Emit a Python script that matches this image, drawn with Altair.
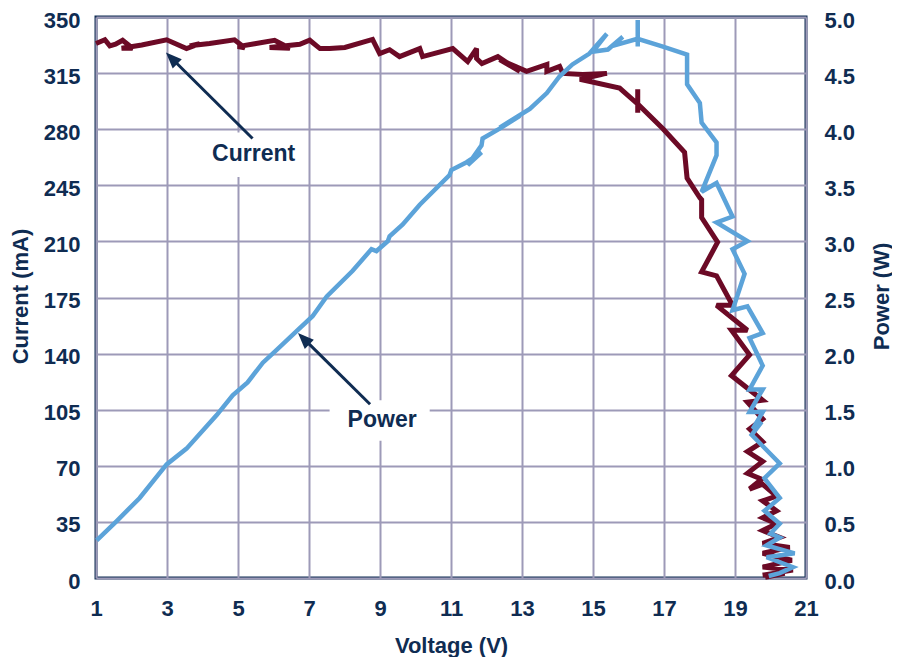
import altair as alt
import pandas as pd

# ---------------- data ----------------
current_v = [1.0, 1.25, 1.39, 1.55, 1.75, 2.03, 1.72, 2.29, 2.99, 3.55, 3.92, 3.64,
             4.20, 4.90, 5.19, 4.99, 5.47, 6.03, 6.46, 5.89, 6.74, 7.02, 7.31, 7.58,
             8.01, 8.79, 8.99, 9.27, 9.55, 10.12, 10.20, 11.05, 11.47, 11.72, 11.72,
             11.87, 12.32, 12.94, 12.37, 13.13, 13.70, 13.70, 14.06, 14.15, 14.71,
             15.39, 14.63, 15.75, 16.26, 16.26, 16.26, 16.26, 16.97, 17.58, 17.65,
             18.01, 18.06, 18.06, 18.51, 18.06, 18.48, 18.93, 18.48, 19.35, 18.90,
             19.41, 18.90, 19.78, 19.35, 19.78, 19.41, 19.78, 19.35, 19.78, 19.35,
             19.75, 19.41, 19.78, 20.17, 19.78, 20.17, 19.78, 20.17, 19.78, 20.26,
             19.78, 20.54, 19.78, 20.60, 19.78, 20.63, 19.78, 20.40, 19.85]
current_ma = [333.5, 335.8, 332.0, 333.0, 335.5, 330.5, 330.5, 332.5, 335.8, 330.3,
              333.3, 332.0, 333.5, 335.8, 330.8, 331.5, 333.3, 335.5, 330.5, 331.0,
              333.0, 335.5, 330.3, 330.3, 331.0, 336.0, 327.2, 329.6, 325.3, 330.3,
              325.3, 330.3, 322.2, 330.3, 324.1, 321.0, 325.3, 316.1, 323.5, 316.1,
              320.4, 316.1, 319.2, 314.8, 314.2, 314.8, 311.2, 305.6, 295.7, 305.0,
              290.2, 295.7, 280.3, 265.6, 249.5, 237.2, 236.0, 224.9, 209.5, 191.0,
              188.5, 170.1, 170.1, 154.6, 154.6, 139.2, 126.3, 110.9, 109.7, 99.2,
              93.0, 85.0, 78.9, 72.7, 65.3, 61.6, 55.5, 58.5, 51.1, 48.1, 41.9, 37.6,
              33.9, 29.6, 25.3, 21.6, 19.1, 15.4, 11.1, 6.8, 4.9, 1.8, 3.0, 0.5]

power_v = [1.02, 1.59, 2.23, 2.99, 3.55, 4.40, 4.85, 5.27, 5.70, 6.09, 6.68, 7.10,
           7.50, 8.23, 8.76, 8.90, 9.22, 9.27, 9.64, 10.12, 10.96, 11.01, 11.44,
           11.86, 11.47, 11.86, 11.89, 12.37, 12.94, 12.37, 13.22, 13.70, 14.06,
           14.42, 14.90, 15.39, 14.99, 15.42, 15.84, 15.53, 16.26, 16.26, 16.26,
           16.26, 16.97, 17.65, 17.65, 18.01, 18.06, 18.48, 18.48, 18.06, 18.48,
           18.93, 18.48, 19.35, 18.93, 19.27, 18.93, 19.35, 19.78, 19.41, 19.78,
           19.41, 19.78, 19.41, 19.78, 19.50, 19.75, 19.47, 20.26, 19.83, 20.26,
           19.83, 20.26, 20.00, 20.26, 19.89, 20.68, 19.89, 20.63, 20.26, 19.95]
power_w = [0.335, 0.51, 0.713, 1.012, 1.153, 1.452, 1.629, 1.743, 1.919, 2.033,
           2.210, 2.333, 2.509, 2.738, 2.931, 2.914, 3.002, 3.046, 3.151, 3.327,
           3.592, 3.636, 3.706, 3.794, 3.680, 3.856, 3.917, 4.005, 4.120, 4.014,
           4.181, 4.322, 4.472, 4.577, 4.674, 4.850, 4.690, 4.710, 4.824, 4.740,
           4.806, 4.974, 4.736, 4.806, 4.736, 4.665, 4.401, 4.234, 4.058, 3.882,
           3.768, 3.442, 3.521, 3.222, 3.169, 3.002, 2.931, 2.711, 2.386, 2.421,
           2.183, 2.139, 1.893, 1.681, 1.681, 1.479, 1.479, 1.329, 1.391, 1.276,
           1.021, 0.889, 0.713, 0.599, 0.484, 0.396, 0.361, 0.290, 0.220, 0.185,
           0.097, 0.044, 0.018]

x_ticks = [1, 3, 5, 7, 9, 11, 13, 15, 17, 19, 21]
current_ticks = [0, 35, 70, 105, 140, 175, 210, 245, 280, 315, 350]
power_ticks = [0.0, 0.5, 1.0, 1.5, 2.0, 2.5, 3.0, 3.5, 4.0, 4.5, 5.0]

# annotations (data units)
cur_label = pd.DataFrame({"v": [5.44], "i": [264.3], "text": ["Current"],
                          "v1": [4.06], "v2": [6.82], "i1": [250.2], "i2": [277.9]})
cur_arrow = pd.DataFrame({"v": [5.41], "i": [274.2], "v2": [3.13], "i2": [324.3],
                          "tv": [2.97], "ti": [327.8]})
pow_label = pd.DataFrame({"v": [9.06], "p": [1.404], "text": ["Power"],
                          "v1": [7.58], "v2": [10.40], "p1": [1.224], "p2": [1.585]})
pow_arrow = pd.DataFrame({"v": [8.72], "p": [1.549], "v2": [6.85], "p2": [2.133],
                          "tv": [6.69], "tp": [2.183]})

cur = pd.DataFrame({"v": current_v, "i": current_ma, "k": list(range(len(current_v)))})
pw = pd.DataFrame({"v": power_v, "p": power_w, "k": list(range(len(power_v)))})

# ---------------- styling ----------------
NAVY = "#0F2C52"
RED = "#6C0A26"
BLUE = "#5CA3D9"
GRID = "#9D9AB8"
FONT = "Liberation Sans"
ARROW = "M0,0L0.8,2L-0.8,2Z"

xs = alt.Scale(domain=[1, 21], nice=False, zero=False)
ys_i = alt.Scale(domain=[0, 350], nice=False)
ys_p = alt.Scale(domain=[0, 5], nice=False)

x_axis = alt.Axis(values=x_ticks, title="Voltage (V)", grid=True, gridColor=GRID,
                  gridWidth=2, gridOpacity=1, domain=False, ticks=False,
                  labelFlush=False, labelPadding=20, labelFont=FONT,
                  labelFontSize=22, labelFontWeight="bold", labelColor=NAVY,
                  titleFont=FONT, titleFontSize=22, titleFontWeight="bold",
                  titleColor=NAVY, titleY=67, titleBaseline="middle")
yi_axis = alt.Axis(values=current_ticks, title="Current (mA)", orient="left",
                   grid=True, gridColor=GRID, gridWidth=2, gridOpacity=1,
                   domain=False, ticks=False, labelFlush=False, labelPadding=16,
                   labelOffset=3, labelFont=FONT, labelFontSize=22,
                   labelFontWeight="bold", labelColor=NAVY, titleFont=FONT,
                   titleFontSize=22, titleFontWeight="bold", titleColor=NAVY,
                   titleAngle=270, titleX=-76, titleY=279, titleAlign="center",
                   titleBaseline="middle")
yp_axis = alt.Axis(values=power_ticks, format=".1f", title="Power (W)",
                   orient="right", grid=False, domain=False, ticks=False,
                   labelFlush=False, labelPadding=18, labelOffset=3,
                   labelFont=FONT, labelFontSize=22, labelFontWeight="bold",
                   labelColor=NAVY, titleFont=FONT, titleFontSize=22,
                   titleFontWeight="bold", titleColor=NAVY, titleAngle=270,
                   titleX=75, titleY=279, titleAlign="center",
                   titleBaseline="middle")


def X(field):
    return alt.X(field, scale=xs, axis=x_axis)


def YI(field):
    return alt.Y(field, scale=ys_i, axis=yi_axis)


def YP(field):
    return alt.Y(field, scale=ys_p, axis=yp_axis)


# ---------------- current layer (left axis) ----------------
cur_line = alt.Chart(cur).mark_line(color=RED, strokeWidth=5, strokeJoin="miter",
                                    strokeMiterLimit=3).encode(
    x=X("v:Q"), y=YI("i:Q"), order="k:Q",
)
cur_box = alt.Chart(cur_label).mark_rect(color="white").encode(
    x=X("v1:Q"), x2="v2:Q", y=YI("i1:Q"), y2="i2:Q",
)
cur_text = alt.Chart(cur_label).mark_text(font=FONT, fontSize=23, fontWeight="bold",
                                          color=NAVY, align="center",
                                          baseline="middle").encode(
    x=X("v:Q"), y=YI("i:Q"), text="text:N",
)
cur_rule = alt.Chart(cur_arrow).mark_rule(color=NAVY, strokeWidth=3).encode(
    x=X("v:Q"), x2="v2:Q", y=YI("i:Q"), y2="i2:Q",
)
cur_head = alt.Chart(cur_arrow).mark_point(shape=ARROW, size=256, filled=True,
                                           color=NAVY, opacity=1, strokeWidth=0,
                                           angle=315).encode(
    x=X("tv:Q"), y=YI("ti:Q"),
)
current_layer = alt.layer(cur_line, cur_box, cur_text, cur_rule, cur_head)

# ---------------- power layer (right axis) ----------------
pow_line = alt.Chart(pw).mark_line(color=BLUE, strokeWidth=4.5, strokeJoin="miter",
                                   strokeMiterLimit=3).encode(
    x=X("v:Q"), y=YP("p:Q"), order="k:Q",
)
pow_box = alt.Chart(pow_label).mark_rect(color="white").encode(
    x=X("v1:Q"), x2="v2:Q", y=YP("p1:Q"), y2="p2:Q",
)
pow_text = alt.Chart(pow_label).mark_text(font=FONT, fontSize=23, fontWeight="bold",
                                          color=NAVY, align="center",
                                          baseline="middle").encode(
    x=X("v:Q"), y=YP("p:Q"), text="text:N",
)
pow_rule = alt.Chart(pow_arrow).mark_rule(color=NAVY, strokeWidth=3).encode(
    x=X("v:Q"), x2="v2:Q", y=YP("p:Q"), y2="p2:Q",
)
pow_head = alt.Chart(pow_arrow).mark_point(shape=ARROW, size=256, filled=True,
                                           color=NAVY, opacity=1, strokeWidth=0,
                                           angle=315).encode(
    x=X("tv:Q"), y=YP("tp:Q"),
)
power_layer = alt.layer(pow_line, pow_box, pow_text, pow_rule, pow_head)

chart = alt.layer(current_layer, power_layer).resolve_scale(
    y="independent"
).properties(
    width=710,
    height=561,
    autosize=alt.AutoSizeParams(type="none"),
    padding={"left": 88, "top": 9, "right": 86, "bottom": 79},
    background="white",
).configure_view(
    stroke=NAVY, strokeWidth=3
)

chart.save("out.html", embed_options={"renderer": "svg", "actions": False})
